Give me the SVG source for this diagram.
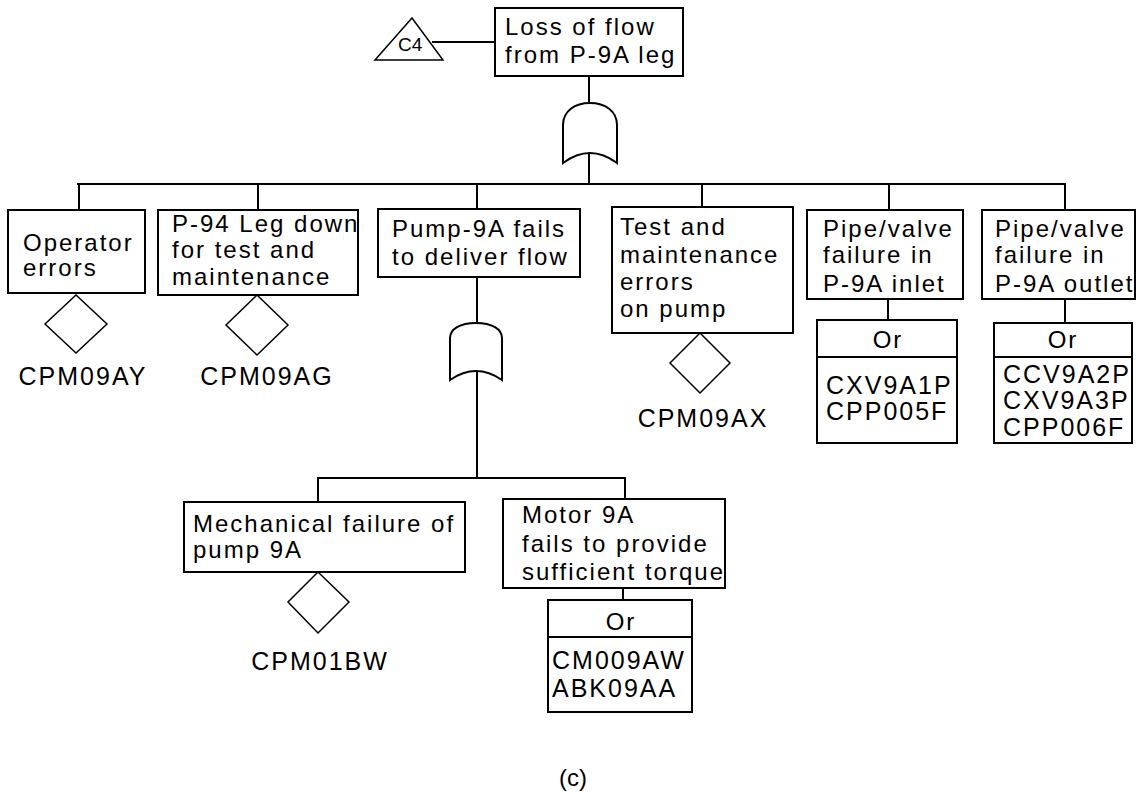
<svg xmlns="http://www.w3.org/2000/svg" width="1137" height="796" viewBox="0 0 1137 796">
<style>
.b{fill:#fff;stroke:#000;stroke-width:2}
.g{fill:#fff;stroke:#000;stroke-width:2}
.d{fill:#fff;stroke:#000;stroke-width:1.5}
.c{fill:none;stroke:#000;stroke-width:2}
text{font-family:"Liberation Sans",Arial,sans-serif;font-size:24px;fill:#000;letter-spacing:2px}
.k{font-size:25px;letter-spacing:2px}
.m{text-anchor:middle}
</style>
<defs>
<clipPath id="cp2"><rect x="158" y="210" width="200" height="85"/></clipPath>
<clipPath id="cp6"><rect x="982" y="210" width="153" height="89"/></clipPath>
<clipPath id="cp6o"><rect x="994" y="323" width="138" height="122"/></clipPath>
</defs>
<g id="connectors">
<line class="c" x1="432" y1="42" x2="495" y2="42"/>
<line class="c" x1="589" y1="76" x2="589" y2="103"/>
<line class="c" x1="589" y1="152" x2="589" y2="184"/>
<line class="c" x1="77" y1="184" x2="1066" y2="184"/>
<line class="c" x1="79" y1="184" x2="79" y2="210"/>
<line class="c" x1="258" y1="184" x2="258" y2="210"/>
<line class="c" x1="477" y1="184" x2="477" y2="209"/>
<line class="c" x1="702" y1="184" x2="702" y2="207"/>
<line class="c" x1="889" y1="184" x2="889" y2="210"/>
<line class="c" x1="1065" y1="184" x2="1065" y2="210"/>
<line class="c" x1="477" y1="277" x2="477" y2="323"/>
<line class="c" x1="477" y1="372" x2="477" y2="478"/>
<line class="c" x1="317" y1="478" x2="626" y2="478"/>
<line class="c" x1="318" y1="478" x2="318" y2="502"/>
<line class="c" x1="625" y1="478" x2="625" y2="499"/>
<line class="c" x1="888" y1="299" x2="888" y2="320"/>
<line class="c" x1="1065" y1="299" x2="1065" y2="323"/>
<line class="c" x1="623" y1="588" x2="623" y2="600"/>
</g>
<g id="top">
<rect class="b" x="495" y="8" width="188" height="68"/>
<text x="505" y="35">Loss of flow</text>
<text x="505" y="63">from P-9A leg</text>
</g>
<g id="transfer-c4">
<polygon class="d" points="412,18 443,60 375,60"/>
<text x="398" y="51" style="font-size:19px;letter-spacing:0">C4</text>
</g>
<g id="gate1">
<path class="g" d="M563,163 L563,125 C563,111 575,103 590,103 C605,103 617,111 617,125 L617,163 Q590,143 563,163 Z"/>
</g>
<g id="operator">
<rect class="b" x="8" y="210" width="137" height="83"/>
<text x="23" y="251">Operator</text>
<text x="23" y="276">errors</text>
<polygon class="d" points="76,295 107,324 76,353 45,324"/>
<text class="k m" x="83" y="385">CPM09AY</text>
</g>
<g id="p94">
<rect class="b" x="158" y="210" width="200" height="85"/>
<text x="172" y="232" clip-path="url(#cp2)">P-94 Leg down</text>
<text x="172" y="258">for test and</text>
<text x="172" y="285">maintenance</text>
<polygon class="d" points="257,295 288,325 257,355 226,325"/>
<text class="k m" x="267" y="385">CPM09AG</text>
</g>
<g id="pump">
<rect class="b" x="378" y="209" width="202" height="68"/>
<text x="392" y="237">Pump-9A fails</text>
<text x="392" y="265">to deliver flow</text>
</g>
<g id="gate2">
<path class="g" d="M450,380 L450,338 C450,329 460,323 476,323 C492,323 502,329 502,338 L502,380 Q476,362 450,380 Z"/>
</g>
<g id="testmaint">
<rect class="b" x="612" y="207" width="181" height="126"/>
<text x="620" y="235">Test and</text>
<text x="620" y="263">maintenance</text>
<text x="620" y="290">errors</text>
<text x="620" y="317">on pump</text>
<polygon class="d" points="700,333 730,363 700,393 670,363"/>
<text class="k m" x="703" y="427">CPM09AX</text>
</g>
<g id="inlet">
<rect class="b" x="807" y="210" width="156" height="89"/>
<text x="823" y="237">Pipe/valve</text>
<text x="823" y="263">failure in</text>
<text x="823" y="292">P-9A inlet</text>
</g>
<g id="inlet-or">
<rect class="b" x="817" y="320" width="140" height="123"/>
<line class="c" x1="817" y1="357" x2="957" y2="357"/>
<text class="m" x="888" y="348">Or</text>
<text class="k" x="826" y="394">CXV9A1P</text>
<text class="k" x="826" y="420">CPP005F</text>
</g>
<g id="outlet">
<rect class="b" x="982" y="210" width="153" height="89"/>
<g clip-path="url(#cp6)">
<text x="995" y="237">Pipe/valve</text>
<text x="995" y="263">failure in</text>
<text x="995" y="292">P-9A outlet</text>
</g>
</g>
<g id="outlet-or">
<rect class="b" x="994" y="323" width="138" height="120"/>
<line class="c" x1="994" y1="357" x2="1132" y2="357"/>
<text class="m" x="1063" y="348">Or</text>
<g clip-path="url(#cp6o)">
<text class="k" x="1003" y="383">CCV9A2P</text>
<text class="k" x="1003" y="409">CXV9A3P</text>
<text class="k" x="1003" y="436">CPP006F</text>
</g>
</g>
<g id="mechanical">
<rect class="b" x="184" y="502" width="281" height="70"/>
<text x="193" y="532">Mechanical failure of</text>
<text x="193" y="558">pump 9A</text>
<polygon class="d" points="318,572 349,602 318,633 288,602"/>
<text class="k m" x="320" y="670">CPM01BW</text>
</g>
<g id="motor">
<rect class="b" x="503" y="499" width="222" height="89"/>
<text x="522" y="523">Motor 9A</text>
<text x="522" y="552">fails to provide</text>
<text x="522" y="580">sufficient torque</text>
</g>
<g id="motor-or">
<rect class="b" x="548" y="600" width="144" height="112"/>
<line class="c" x1="548" y1="637" x2="692" y2="637"/>
<text class="m" x="621" y="630">Or</text>
<text class="k" x="552" y="669">CM009AW</text>
<text class="k" x="552" y="697">ABK09AA</text>
</g>
<text class="m" x="573" y="786" style="letter-spacing:0">(c)</text>
</svg>
